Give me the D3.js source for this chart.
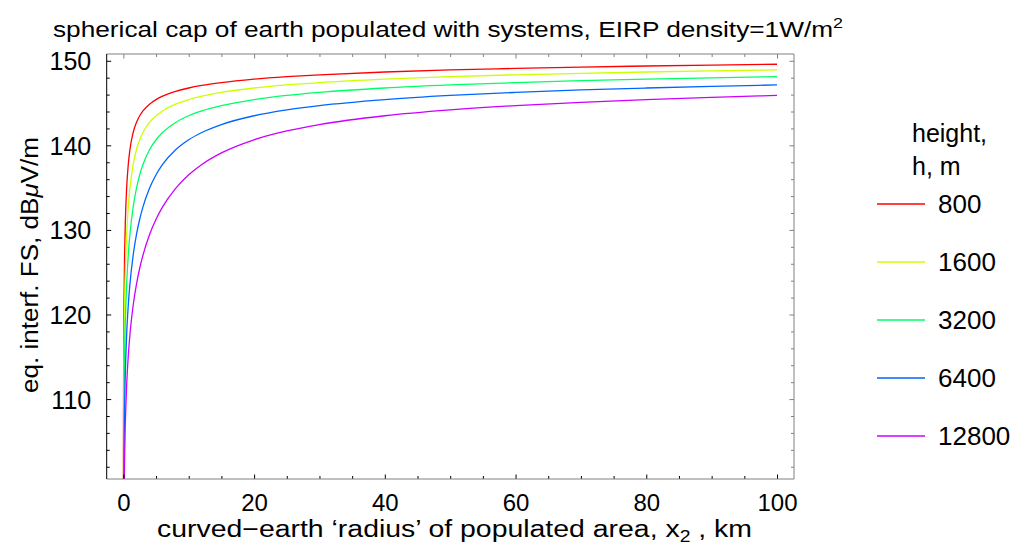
<!DOCTYPE html>
<html>
<head>
<meta charset="utf-8">
<script src="https://cdn.jsdelivr.net/npm/d3@7"></script>
<style>
  body { margin: 0; background: #fff; }
  svg { display: block; font-family: "Liberation Sans", Arial, sans-serif; }
  .tick text { font-family: "Liberation Sans", Arial, sans-serif; fill: #000; }
</style>
</head>
<body>
<svg id="chart" width="1010" height="546"></svg>
<script>
// x2 in km
var distKm = [0.001, 0.02, 0.05, 0.1, 0.2, 0.3, 0.5, 0.75, 1, 1.5, 2, 2.5, 3, 4, 5, 6, 8, 10, 12, 15, 20, 25, 30, 40, 50, 60, 70, 80, 90, 100]
// eq. interf. FS, dBuV/m, one list per height
var fs800   = [81.68, 107.70, 115.65, 121.64, 127.57, 130.93, 134.92, 137.74, 139.48, 141.52, 142.71, 143.50, 144.07, 144.87, 145.41, 145.81, 146.38, 146.78, 147.08, 147.42, 147.83, 148.12, 148.34, 148.67, 148.92, 149.10, 149.26, 149.38, 149.49, 149.59]
var fs1600  = [75.66, 101.68, 109.63, 115.65, 121.64, 125.13, 129.43, 132.72, 134.92, 137.74, 139.48, 140.66, 141.52, 142.71, 143.50, 144.07, 144.87, 145.41, 145.81, 146.26, 146.78, 147.14, 147.42, 147.83, 148.12, 148.34, 148.52, 148.67, 148.80, 148.92]
var fs3200  = [69.64, 95.66, 103.62, 109.63, 115.65, 119.16, 123.56, 127.02, 129.43, 132.72, 134.92, 136.52, 137.74, 139.48, 140.66, 141.52, 142.71, 143.50, 144.07, 144.70, 145.41, 145.90, 146.26, 146.78, 147.14, 147.42, 147.65, 147.83, 147.98, 148.12]
var fs6400  = [63.62, 89.64, 97.60, 103.62, 109.63, 113.15, 117.58, 121.09, 123.56, 127.02, 129.43, 131.26, 132.72, 134.92, 136.52, 137.74, 139.48, 140.66, 141.52, 142.46, 143.50, 144.19, 144.70, 145.41, 145.90, 146.26, 146.55, 146.78, 146.98, 147.14]
var fs12800 = [57.60, 83.62, 91.58, 97.60, 103.62, 107.14, 111.57, 115.09, 117.58, 121.09, 123.56, 125.47, 127.02, 129.43, 131.26, 132.72, 134.92, 136.52, 137.74, 139.11, 140.66, 141.70, 142.46, 143.50, 144.19, 144.70, 145.09, 145.41, 145.67, 145.90]

var heights = ['800', '1600', '3200', '6400', '12800']
var seriesVals = [fs800, fs1600, fs3200, fs6400, fs12800]
var colors = ['#ff0000', '#ccff00', '#00ff66', '#0066ff', '#cc00ff']

var xMajor = [0, 20, 40, 60, 80, 100]
var xMinor = [5, 10, 15, 25, 30, 35, 45, 50, 55, 65, 70, 75, 85, 90, 95]
var yMajor = [110, 120, 130, 140, 150]
var yMinor = [102, 104, 106, 108, 112, 114, 116, 118, 122, 124, 126, 128, 132, 134, 136, 138, 142, 144, 146, 148]

var L = 106.7, R = 794, T = 54, B = 479
var svg = d3.select('#chart')

var x = d3.scaleLinear().domain([-2.55, 102.6]).range([L, R])
var y = d3.scaleLinear().domain([100.55, 150.8]).range([B, T])

// title (the original font runs wide, so stretch to its measured width)
var title = svg.append('text')
    .attr('x', 53).attr('y', 37)
    .attr('textLength', 790).attr('lengthAdjust', 'spacingAndGlyphs')
    .style('font-size', '22px')
    .text('spherical cap of earth populated with systems, EIRP density=1W/m')
title.append('tspan').attr('dy', -9).style('font-size', '15px').text('2')

// clip
svg.append('clipPath').attr('id', 'plotclip')
    .append('rect').attr('x', L).attr('y', T).attr('width', R - L).attr('height', B - T)

var line = d3.line()
    .x(function(d) { return x(d[0]) })
    .y(function(d) { return y(d[1]) })
    .curve(d3.curveMonotoneX)

var lines = svg.append('g').attr('clip-path', 'url(#plotclip)')
seriesVals.forEach(function(vals, i) {
    lines.append('path')
        .datum(distKm.map(function(d, j) { return [d, vals[j]] }))
        .attr('d', line)
        .attr('fill', 'none')
        .attr('stroke', colors[i])
        .attr('stroke-width', 1.3)
})

// axes, ticks point inward on all four sides
function axisBits(g, color) {
    g.select('.domain').remove()
    g.selectAll('line').attr('stroke', color)
}
svg.append('g').attr('transform', 'translate(0,' + B + ')')
    .call(d3.axisBottom(x).tickValues(xMajor).tickSize(-4.5).tickPadding(15).tickFormat(d3.format('d')))
    .call(axisBits, '#000')
    .selectAll('text').style('font-size', '24px')
svg.append('g').attr('transform', 'translate(0,' + B + ')')
    .call(d3.axisBottom(x).tickValues(xMinor).tickSize(-3).tickFormat(''))
    .call(axisBits, '#000')
svg.append('g').attr('transform', 'translate(0,' + T + ')')
    .call(d3.axisTop(x).tickValues(xMajor).tickSize(-4.5).tickFormat(''))
    .call(axisBits, '#808080')
svg.append('g').attr('transform', 'translate(0,' + T + ')')
    .call(d3.axisTop(x).tickValues(xMinor).tickSize(-3).tickFormat(''))
    .call(axisBits, '#808080')

svg.append('g').attr('transform', 'translate(' + L + ',0)')
    .call(d3.axisLeft(y).tickValues(yMajor).tickSize(-4.5).tickPadding(15.5).tickFormat(d3.format('d')))
    .call(axisBits, '#000')
    .selectAll('text').style('font-size', '25px').attr('dy', '0.36em')
svg.append('g').attr('transform', 'translate(' + L + ',0)')
    .call(d3.axisLeft(y).tickValues(yMinor).tickSize(-3).tickFormat(''))
    .call(axisBits, '#000')
svg.append('g').attr('transform', 'translate(' + R + ',0)')
    .call(d3.axisRight(y).tickValues(yMajor).tickSize(-4.5).tickFormat(''))
    .call(axisBits, '#808080')
svg.append('g').attr('transform', 'translate(' + R + ',0)')
    .call(d3.axisRight(y).tickValues(yMinor).tickSize(-3).tickFormat(''))
    .call(axisBits, '#808080')

// frame
svg.append('line').attr('x1', L).attr('x2', R).attr('y1', T).attr('y2', T).attr('stroke', '#808080')
svg.append('line').attr('x1', L).attr('x2', R).attr('y1', B).attr('y2', B).attr('stroke', '#808080')
svg.append('line').attr('x1', R).attr('x2', R).attr('y1', T).attr('y2', B).attr('stroke', '#808080')
svg.append('line').attr('x1', L).attr('x2', L).attr('y1', T).attr('y2', B).attr('stroke', '#000')

// axis titles
var xt = svg.append('text')
    .attr('x', 157).attr('y', 537)
    .attr('textLength', 595).attr('lengthAdjust', 'spacingAndGlyphs')
    .style('font-size', '23.5px')
    .text('curved\u2212earth \u2018radius\u2019 of populated area, x')
xt.append('tspan').attr('dy', 5).style('font-size', '16px').text('2')
xt.append('tspan').attr('dy', -5).text(' , km')

var yt = svg.append('text')
    .attr('transform', 'translate(38,393) rotate(-90)')
    .attr('textLength', 256).attr('lengthAdjust', 'spacingAndGlyphs')
    .style('font-size', '23px')
    .text('eq. interf. FS, dB')
yt.append('tspan').style('font-style', 'italic').text('\u03bc')
yt.append('tspan').text('V/m')

// legend
var legend = svg.append('g')
legend.append('text').attr('x', 912).attr('y', 142).style('font-size', '25px').text('height,')
legend.append('text').attr('x', 912).attr('y', 175).style('font-size', '25px').text('h, m')
var item = legend.selectAll('g.item')
    .data(heights)
    .enter().append('g')
    .attr('class', 'item')
    .attr('transform', function(d, i) { return 'translate(0,' + (204 + i * 58) + ')' })
item.append('line')
    .attr('x1', 877).attr('x2', 925)
    .attr('stroke', function(d, i) { return colors[i] })
    .attr('stroke-width', 1.3)
item.append('text')
    .attr('x', 938).attr('dy', '0.35em')
    .style('font-size', '26px')
    .text(String)
</script>
</body>
</html>
